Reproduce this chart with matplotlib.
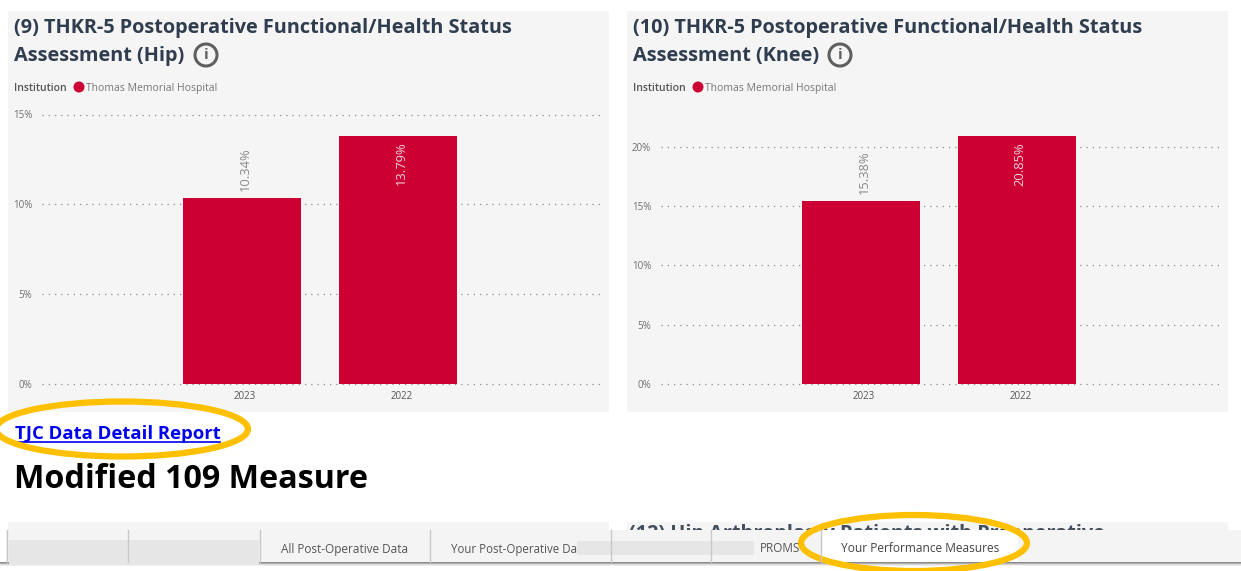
import matplotlib
matplotlib.use('Agg')
import matplotlib.pyplot as plt
from matplotlib.patches import Rectangle, Ellipse, Circle

W, H = 1241, 571

plt.rcParams['font.family'] = ['Open Sans', 'DejaVu Sans']

years = ['2023', '2022']
hip_values = [10.34, 13.79]
knee_values = [15.38, 20.85]
hip_ticks = [0, 5, 10, 15]
knee_ticks = [0, 5, 10, 15, 20]
tab_labels = ['All Post-Operative Data', 'Your Post-Operative Da', 'PROMS', 'Your Performance Measures']

RED = '#cc0033'
PANEL = '#f5f5f5'
TITLE = '#2f3d4f'
GOLD = '#ffc000'
GRID = '#8c8c8c'
TICK = '#6f6f6f'


def px_axes(fig, left, top, right, bottom):
    return fig.add_axes([left / W, 1 - bottom / H, (right - left) / W, (bottom - top) / H])


def draw_bars(fig, left, top, values, ticks, ymax, label_colors):
    # plot area is 562 px wide, the two bars sit 156 px apart
    ax = px_axes(fig, left, top, left + 562, 384)
    ax.patch.set_alpha(0)
    ax.bar([0, 1], values, width=0.756, color=RED, zorder=3)
    ax.set_xlim(-1.282, 2.32)
    ax.set_ylim(0, ymax)
    ax.set_yticks(ticks)
    ax.set_yticklabels([str(t) + '%' for t in ticks], fontsize=7, color=TICK)
    ax.set_xticks([0.02, 1.02])
    ax.set_xticklabels(years, fontsize=7, color='#555555')
    ax.tick_params(length=0, pad=5)
    ax.tick_params(axis='y', pad=7)
    ax.grid(axis='y', color=GRID, linestyle=(0, (1, 4)), linewidth=0.9, zorder=1)
    ax.set_axisbelow(True)
    for g in ax.get_ygridlines():
        g.set_clip_on(False)
    for s in ax.spines.values():
        s.set_visible(False)
    # 2023 label sits above its bar, 2022 inside the top of the bar
    ax.annotate(f'{values[0]:.2f}%', (0.02, values[0]), xytext=(0, 5), textcoords='offset points',
                rotation=90, ha='center', va='bottom', fontsize=9.3, color=label_colors[0], zorder=4)
    ax.annotate(f'{values[1]:.2f}%', (1.02, values[1]), xytext=(0, -4), textcoords='offset points',
                rotation=90, ha='center', va='top', fontsize=9.3, color=label_colors[1], zorder=4)
    return ax


fig = plt.figure(figsize=(W / 100, H / 100), dpi=100, facecolor='white')

bg = fig.add_axes([0, 0, 1, 1])
bg.set_xlim(0, W)
bg.set_ylim(H, 0)
bg.axis('off')

# panels
for x in [8, 627]:
    bg.add_patch(Rectangle((x, 11), 601, 401, color=PANEL, lw=0))
    bg.add_patch(Rectangle((x, 522), 601, 20, color=PANEL, lw=0))

# titles
bg.text(14, 28, '(9) THKR-5 Postoperative Functional/Health Status', fontsize=14.3, fontweight='bold',
        color=TITLE, va='center')
bg.text(14, 56, 'Assessment (Hip)', fontsize=14.3, fontweight='bold', color=TITLE, va='center')
bg.text(633, 28, '(10) THKR-5 Postoperative Functional/Health Status', fontsize=14.3, fontweight='bold',
        color=TITLE, va='center')
bg.text(633, 56, 'Assessment (Knee)', fontsize=14.3, fontweight='bold', color=TITLE, va='center')

# info icons
for cx in [206, 840]:
    bg.add_patch(Circle((cx, 55), 11, fc='none', ec='#5f5f5f', lw=2.2))
    bg.text(cx, 55, 'i', fontsize=11, fontweight='bold', color='#5f5f5f', ha='center', va='center')

# legends
for x in [14, 633]:
    bg.text(x, 88.4, 'Institution', fontsize=7.5, fontweight='semibold', color='#555555', va='center')
    bg.add_patch(Circle((x + 65, 87), 5.5, color=RED, lw=0))
    bg.text(x + 72, 88.4, 'Thomas Memorial Hospital', fontsize=7.5, color='#777777', va='center')

# link and heading
bg.text(15, 434, 'TJC Data Detail Report', fontsize=13.3, fontweight='bold', color='#0000ee', va='center')
bg.plot([15, 220], [441.5, 441.5], color='#0000ee', lw=1.2)
bg.text(14, 479, 'Modified 109 Measure', fontsize=23.2, fontweight='bold', color='black', va='center')

# text of the panel cut off by the tab bar
bg.text(629, 534, '(12) Hip Arthroplasty Patients with Preoperative', fontsize=14.3, fontweight='bold',
        color=TITLE, va='center', alpha=0.9)

draw_bars(fig, 42, 114.5, hip_values, hip_ticks, 15, ['#8a8a8a', '#f2d5dc'])
draw_bars(fig, 661, 114.5, knee_values, knee_ticks, 22.7, ['#8a8a8a', '#f2d5dc'])

# tab bar on top of everything above
top = fig.add_axes([0, 0, 1, 1])
top.set_xlim(0, W)
top.set_ylim(H, 0)
top.axis('off')
top.patch.set_alpha(0)

top.add_patch(Rectangle((0, 562), W, 9, color='#ffffff', lw=0))
for i, c in enumerate(['#8a8a8a', '#b0b0b0', '#d8d8d8', '#f0f0f0']):
    top.add_patch(Rectangle((0, 562 + i), W, 1.2, color=c, lw=0))
top.add_patch(Rectangle((6, 530), W - 6, 32, color='#f4f4f4', lw=0))
top.add_patch(Rectangle((821, 530), 197, 32, color='white', lw=0))
for x in [7, 128, 260, 430, 611, 711, 821]:
    top.plot([x, x], [530, 562], color='#c8c8c8', lw=1)

top.text(345, 549, tab_labels[0], fontsize=8.5, color='#555555', ha='center', va='center')
top.text(451, 549, tab_labels[1], fontsize=8.3, color='#555555', va='center')
top.text(760, 549, tab_labels[2], fontsize=8.5, color='#555555', va='center')
top.text(920, 549, tab_labels[3], fontsize=8.6, color='#444444', ha='center', va='center')

# grey boxes hiding names
top.add_patch(Rectangle((9, 540), 250, 25, color='#e6e6e6', lw=0))
top.add_patch(Rectangle((577, 541), 177, 14, color='#e6e6e6', lw=0))

# highlight ovals
top.add_patch(Ellipse((122, 429), 252, 55, fc='none', ec=GOLD, lw=4.5))
top.add_patch(Ellipse((914, 543), 226, 56, fc='none', ec=GOLD, lw=4.5))

fig.savefig('out.png', dpi=100)
